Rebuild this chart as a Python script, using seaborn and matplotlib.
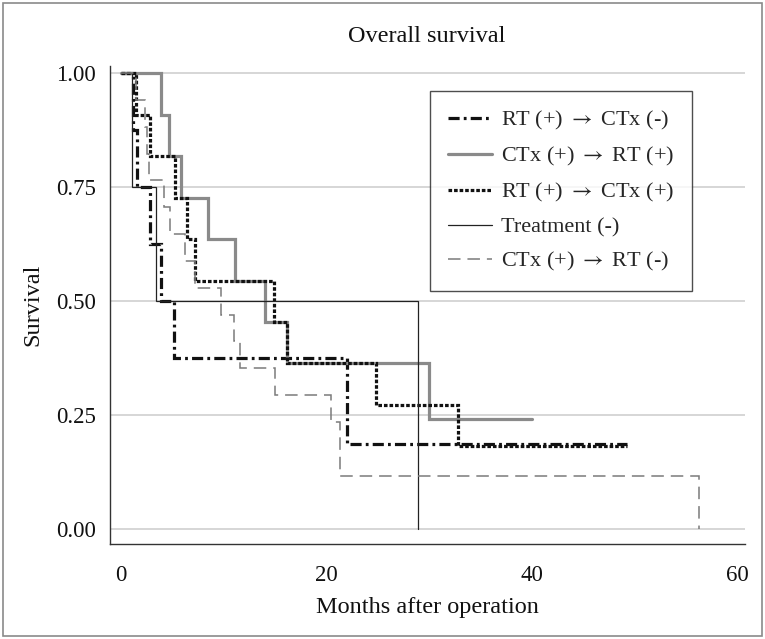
import matplotlib
matplotlib.use("Agg")
import matplotlib.pyplot as plt
from matplotlib.patches import Rectangle
import seaborn as sns
import pandas as pd

# ---- data ----
labels = ["RT (+) $\\rightarrow$ CTx (-)", "CTx (+) $\\rightarrow$ RT (+)",
          "RT (+) $\\rightarrow$ CTx (+)", "Treatment (-)", "CTx (+) $\\rightarrow$ RT (-)"]

t_rt_ctx_neg = [0, 1.2, 1.6, 2.9, 3.9, 5.2, 22.0, 49.2]
s_rt_ctx_neg = [1.0, 0.875, 0.75, 0.625, 0.5, 0.375, 0.188, 0.188]

t_ctx_rt_pos = [0, 3.9, 4.7, 5.9, 8.5, 11.1, 14.0, 16.2, 30.0, 40.0]
s_ctx_rt_pos = [1.0, 0.909, 0.818, 0.727, 0.636, 0.545, 0.455, 0.364, 0.242, 0.242]

t_rt_ctx_pos = [0, 1.5, 2.9, 5.3, 6.5, 7.2, 14.9, 16.2, 24.8, 32.8, 49.2]
s_rt_ctx_pos = [1.0, 0.909, 0.818, 0.727, 0.636, 0.545, 0.455, 0.364, 0.273, 0.182, 0.182]

t_no_treat = [0, 1.1, 3.4, 28.9]
s_no_treat = [1.0, 0.75, 0.5, 0.0]

t_ctx_rt_neg = [0, 1.5, 2.4, 2.6, 2.8, 4.2, 4.8, 6.3, 7.2, 9.8, 11.0, 11.6, 15.0, 20.5, 21.3, 56.2]
s_ctx_rt_neg = [1.0, 0.941, 0.882, 0.824, 0.765, 0.706, 0.647, 0.588, 0.529, 0.471, 0.412,
                0.353, 0.294, 0.235, 0.118, 0.0]

x_ticks = [0, 20, 40, 60]
y_ticks = [0.00, 0.25, 0.50, 0.75, 1.00]

# ---- style ----
sns.set_style("white")
plt.rcParams["font.family"] = ["Liberation Serif", "DejaVu Serif"]
plt.rcParams["mathtext.fontset"] = "stix"
plt.rcParams["lines.scale_dashes"] = False

fig = plt.figure(figsize=(7.65, 6.39), dpi=100)
ax = fig.add_axes([110 / 765, 1 - 544 / 639, 635 / 765, 478 / 639])

series = [
    (t_rt_ctx_neg, s_rt_ctx_neg, "#111111", 2.3, (0, (8, 3, 2, 3))),
    (t_ctx_rt_pos, s_ctx_rt_pos, "#8a8a8a", 2.3, "-"),
    (t_rt_ctx_pos, s_rt_ctx_pos, "#111111", 2.3, (0, (2.6, 1.4))),
    (t_no_treat, s_no_treat, "#222222", 0.9, "-"),
    (t_ctx_rt_neg, s_ctx_rt_neg, "#7a7a7a", 1.1, (0, (9, 5))),
]

handles = []
for (t, s, col, lw, ls), lab in zip(series, labels):
    df = pd.DataFrame({"t": t, "s": s})
    sns.lineplot(data=df, x="t", y="s", ax=ax, estimator=None, sort=False,
                 drawstyle="steps-post", color=col, linewidth=lw, linestyle=ls)
    line = ax.lines[-1]
    line.set_solid_joinstyle("miter")
    line.set_dash_joinstyle("miter")
    handles.append(line)

ax.set_xlim(-1.03, 60.7)
ax.set_ylim(-0.032, 1.016)
ax.set_xticks(x_ticks)
ax.set_yticks(y_ticks)
ax.set_xticklabels([str(v) for v in x_ticks])
ax.set_yticklabels([f"{v:.2f}" for v in y_ticks])
ax.yaxis.grid(True, color="#d0d0d0", linewidth=1.2)
ax.xaxis.grid(False)
ax.set_axisbelow(True)
for side in ["top", "right"]:
    ax.spines[side].set_visible(False)
for side in ["left", "bottom"]:
    ax.spines[side].set_color("#333333")
    ax.spines[side].set_linewidth(1.0)
ax.tick_params(axis="both", which="major", direction="out", length=6, width=0.9,
               color="#333333", labelsize=16.5, pad=4, labelcolor="#111111")
ax.tick_params(axis="x", pad=9)
ax.set_xlabel("Months after operation", fontsize=17.5, labelpad=8, color="#111111")
ax.set_ylabel("Survival", fontsize=17.5, labelpad=9, color="#111111")

leg = ax.legend(handles, labels, loc="upper right", bbox_to_anchor=(0.9165, 0.947),
                frameon=True, fancybox=False, edgecolor="#222222", fontsize=16,
                handlelength=2.0, handletextpad=0.4, labelspacing=0.58,
                borderpad=0.8, borderaxespad=0)
leg.get_frame().set_linewidth(1.0)

fig.text(427 / 765, 1 - 36 / 639, "Overall survival", ha="center", va="center",
         fontsize=17.5, color="#111111")

fig.patches.append(Rectangle((0.004, 0.004), 0.992, 0.992, transform=fig.transFigure,
                             fill=False, edgecolor="#8a8a8a", linewidth=1.2))

fig.savefig("out.png", dpi=100)
